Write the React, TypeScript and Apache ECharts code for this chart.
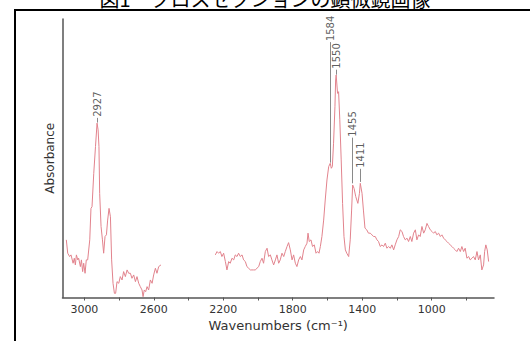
import React, { useEffect, useRef } from "react";
import * as echarts from "echarts";

// Spectrum (null marks the gap between the two measured ranges)
const wavenumbers: number[] = [
  3104, 3096, 3085, 3077, 3065, 3058, 3052, 3046, 3038, 3033, 3023, 3017, 3010, 3004, 2996, 2989, 2981,
  2969, 2962, 2956, 2946, 2936, 2927, 2921, 2916, 2912, 2904, 2896, 2889, 2881, 2873, 2866, 2858, 2850,
  2843, 2835, 2827, 2820, 2812, 2802, 2793, 2783, 2774, 2764, 2754, 2745, 2735, 2726, 2716, 2706, 2697,
  2687, 2678, 2668, 2662, 2655, 2647, 2639, 2630, 2620, 2610, 2601, 2591, 2582, 2572, 2559,
  2400,
  2246, 2236, 2227, 2217, 2208, 2198, 2188, 2179, 2169, 2160, 2150, 2140, 2131, 2121, 2112, 2102, 2092,
  2083, 2073, 2064, 2054, 2044, 2035, 2025, 2016, 2006, 1996, 1987, 1977, 1968, 1958, 1948, 1939, 1929,
  1920, 1910, 1900, 1891, 1881, 1872, 1862, 1852, 1843, 1833, 1824, 1814, 1804, 1795, 1785, 1776, 1766,
  1756, 1747, 1737, 1728, 1718, 1712, 1705, 1695, 1686, 1676, 1666, 1657, 1649, 1641, 1632, 1622, 1613,
  1603, 1593, 1584, 1578, 1572, 1565, 1557, 1553, 1550, 1542, 1536, 1529, 1521, 1513, 1505, 1497, 1489,
  1478, 1469, 1461, 1455, 1447, 1437, 1425, 1416, 1411, 1401, 1393, 1384, 1374, 1364, 1354, 1344, 1334,
  1325, 1315, 1306, 1296, 1286, 1277, 1267, 1258, 1248, 1238, 1229, 1219, 1210, 1200, 1190, 1181, 1171,
  1162, 1152, 1142, 1133, 1123, 1114, 1104, 1094, 1085, 1075, 1066, 1056, 1046, 1037, 1027, 1018, 1008,
  998, 989, 979, 970, 960, 950, 941, 931, 922, 912, 903, 893, 883, 874, 864, 855, 845, 835, 826, 816,
  807, 797, 787, 778, 768, 759, 749, 739, 730, 720, 711, 701, 695, 688, 680, 672,
];

const absorbance: (number | null)[] = [
  0.207, 0.159, 0.147, 0.153, 0.123, 0.141, 0.117, 0.153, 0.135, 0.141, 0.111, 0.135, 0.093, 0.123, 0.087, 0.135, 0.135,
  0.207, 0.32, 0.326, 0.446, 0.542, 0.626, 0.602, 0.542, 0.374, 0.255, 0.207, 0.159, 0.219, 0.225, 0.278, 0.32, 0.29,
  0.135, 0.051, 0.015, 0.015, 0.057, 0.051, 0.075, 0.063, 0.093, 0.075, 0.099, 0.087, 0.087, 0.069, 0.081, 0.057, 0.075,
  0.051, 0.039, 0.027, 0.003, 0.027, 0.021, 0.039, 0.027, 0.063, 0.051, 0.081, 0.105, 0.087, 0.111, 0.117,
  null,
  0.153, 0.165, 0.159, 0.165, 0.147, 0.159, 0.129, 0.099, 0.129, 0.123, 0.141, 0.135, 0.153, 0.147, 0.159, 0.147, 0.153,
  0.135, 0.129, 0.111, 0.105, 0.099, 0.099, 0.099, 0.099, 0.105, 0.111, 0.129, 0.141, 0.123, 0.165, 0.177, 0.147, 0.153,
  0.135, 0.117, 0.135, 0.153, 0.123, 0.135, 0.159, 0.147, 0.165, 0.183, 0.197, 0.171, 0.135, 0.153, 0.123, 0.111, 0.135,
  0.147, 0.135, 0.171, 0.183, 0.195, 0.231, 0.201, 0.207, 0.183, 0.189, 0.159, 0.165, 0.159, 0.183, 0.219, 0.278, 0.35,
  0.422, 0.47, 0.482, 0.464, 0.47, 0.554, 0.685, 0.781, 0.799, 0.733, 0.739, 0.638, 0.494, 0.338, 0.219, 0.171, 0.159,
  0.147, 0.207, 0.314, 0.404, 0.392, 0.362, 0.338, 0.374, 0.41, 0.374, 0.314, 0.249, 0.243, 0.231, 0.231, 0.225, 0.219,
  0.219, 0.207, 0.201, 0.183, 0.189, 0.183, 0.195, 0.177, 0.183, 0.177, 0.189, 0.171, 0.189, 0.207, 0.219, 0.243, 0.237,
  0.219, 0.207, 0.213, 0.201, 0.219, 0.201, 0.231, 0.243, 0.207, 0.225, 0.219, 0.255, 0.231, 0.243, 0.266, 0.255, 0.243,
  0.237, 0.231, 0.237, 0.225, 0.231, 0.219, 0.225, 0.213, 0.207, 0.201, 0.195, 0.189, 0.183, 0.177, 0.171, 0.165, 0.177, 0.165, 0.183, 0.165,
  0.177, 0.141, 0.147, 0.135, 0.141, 0.147, 0.135, 0.165, 0.135, 0.153, 0.099, 0.117, 0.165, 0.189, 0.171, 0.129,
];

// Peak annotations
const peakWavenumbers: number[] = [2927, 1584, 1550, 1455, 1411];
const peakLineBottom: number[] = [0.628, 0.484, 0.8, 0.41, 0.415];
const peakLabelBase: number[] = [0.645, 0.917, 0.818, 0.574, 0.462];

// Axis ticks
const xTickValues: number[] = [800, 1000, 1200, 1400, 1600, 1800, 2000, 2200, 2400, 2600, 2800, 3000];
const xLabelValues: number[] = [1000, 1400, 1800, 2200, 2600, 3000];

const TITLE = "図1　クロスセクションの顕微鏡画像";

export default function App() {
  const ref = useRef<HTMLDivElement>(null);

  useEffect(() => {
    if (!ref.current) return;
    const chart = echarts.init(ref.current, undefined, { renderer: "svg" });

    const spectrum = wavenumbers.map((w, i) => [w, absorbance[i]]);
    const markLines = peakWavenumbers.map((w, i) => [
      { coord: [w, peakLineBottom[i]] },
      { coord: [w, peakLabelBase[i]] },
    ]);
    const labelPoints = peakWavenumbers.map((w, i) => [w, peakLabelBase[i]]);

    chart.setOption({
      animation: false,
      backgroundColor: "#ffffff",
      grid: {
        left: 62.5,
        right: 36,
        top: 19,
        bottom: 43.5,
        containLabel: false,
        outerBoundsMode: "none",
      },
      xAxis: {
        type: "value",
        inverse: true,
        min: 641,
        max: 3126,
        name: "Wavenumbers (cm\u207B\u00B9)",
        nameLocation: "middle",
        nameGap: 20,
        nameTextStyle: { fontFamily: "DejaVu Sans", fontSize: 13, color: "#333" },
        axisLine: { show: true, lineStyle: { color: "#555", width: 1.5 } },
        axisTick: { show: true, length: 3, customValues: xTickValues, lineStyle: { color: "#555" } },
        axisLabel: {
          customValues: xLabelValues,
          formatter: (v: number) => String(v),
          fontFamily: "DejaVu Sans",
          fontSize: 11,
          color: "#333",
          margin: 6,
        },
        splitLine: { show: false },
      },
      yAxis: {
        type: "value",
        min: 0,
        max: 1,
        name: "Absorbance",
        nameLocation: "middle",
        nameGap: 7,
        nameTextStyle: { fontFamily: "DejaVu Sans", fontSize: 12, color: "#333" },
        axisLine: { show: true, lineStyle: { color: "#555", width: 1.5 } },
        axisTick: { show: false },
        axisLabel: { show: false },
        splitLine: { show: false },
      },
      series: [
        {
          type: "line",
          data: spectrum,
          showSymbol: false,
          connectNulls: false,
          lineStyle: { color: "#e2838d", width: 1 },
          itemStyle: { color: "#e2838d" },
          markLine: {
            silent: true,
            symbol: ["none", "none"],
            label: { show: false },
            lineStyle: { color: "#8a8a8a", width: 1, type: "solid" },
            data: markLines,
          },
          z: 3,
        },
        {
          type: "scatter",
          data: labelPoints,
          symbolSize: 0,
          silent: true,
          label: {
            show: true,
            position: "top",
            distance: 1,
            rotate: 90,
            align: "left",
            verticalAlign: "middle",
            fontFamily: "DejaVu Sans",
            fontSize: 10,
            color: "#333",
            formatter: (p: any) => String(p.value[0]),
          },
        },
      ],
      graphic: [
        {
          type: "text",
          left: "center",
          top: -12,
          style: {
            text: TITLE,
            font: '20px "Noto Sans CJK JP"',
            fill: "#000",
          },
        },
        {
          type: "line",
          shape: { x1: 15, y1: 10, x2: 530, y2: 10 },
          style: { stroke: "#000", lineWidth: 2 },
        },
        {
          type: "line",
          shape: { x1: 15, y1: 9, x2: 15, y2: 341 },
          style: { stroke: "#000", lineWidth: 2 },
        },
      ],
    });

    return () => chart.dispose();
  }, []);

  return (
    <div
      ref={ref}
      style={{ position: "fixed", left: 0, top: 0, width: 530, height: 341, background: "#fff" }}
    />
  );
}
